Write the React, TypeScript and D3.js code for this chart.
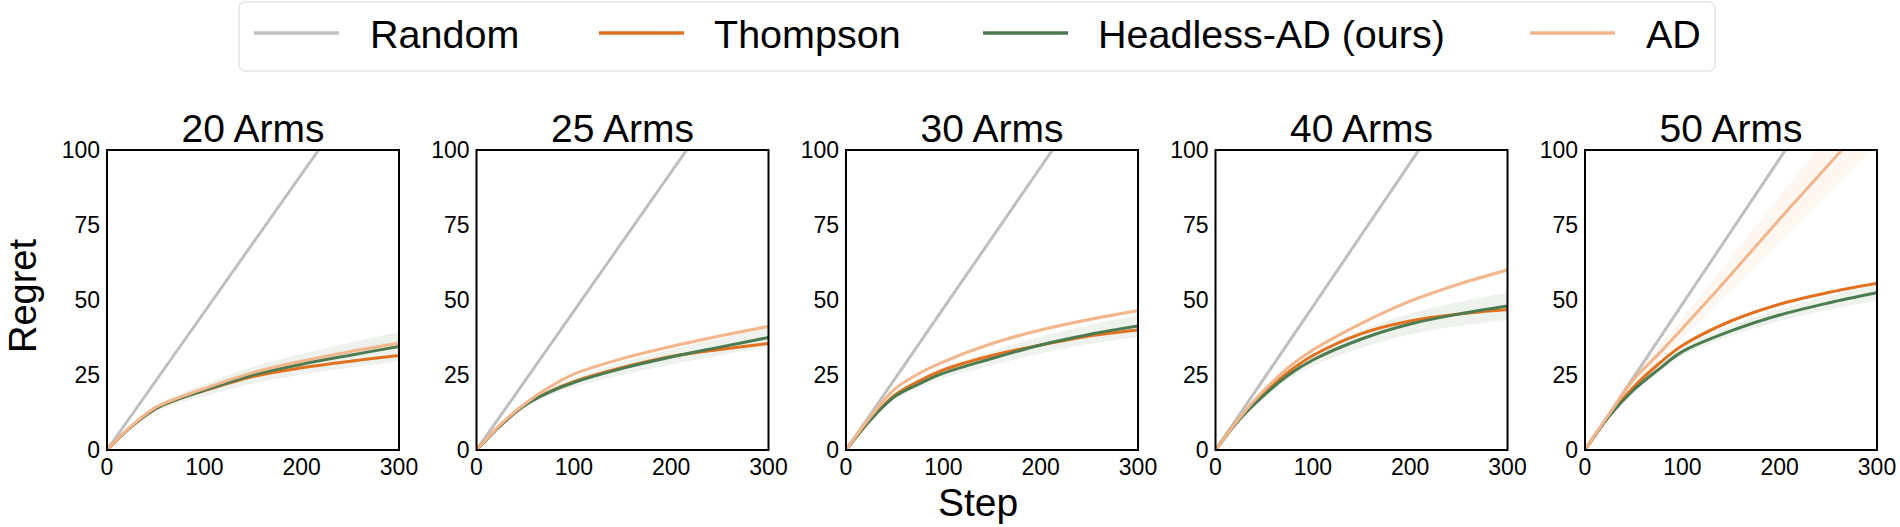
import React from "react";
import * as d3 from "d3";

const panelTitles = ["20 Arms", "25 Arms", "30 Arms", "40 Arms", "50 Arms"];
const steps = [0, 25, 50, 75, 100, 150, 200, 250, 300];
const randomSteps = [0, 100, 200, 300];
const xTicks = [0, 100, 200, 300];
const yTicks = [0, 25, 50, 75, 100];

const randomVals = [
  [0, 46, 92, 138],
  [0, 46.3, 92.6, 139],
  [0, 47.2, 94.3, 141.5],
  [0, 47.8, 95.7, 143.5],
  [0, 48.6, 97.1, 145.6],
];
const thompsonVals = [
  [0, 7.8, 13.8, 17.2, 19.8, 24.5, 27.4, 29.6, 31.5],
  [0, 8.3, 15, 19.5, 22.8, 27.5, 31.2, 33.5, 35.5],
  [0, 10, 18.3, 23, 26.7, 31.5, 35, 38, 40],
  [0, 10.5, 18.9, 26, 31.5, 38.8, 43, 45.3, 46.8],
  [0, 11.5, 21, 28.5, 34.8, 43, 48.6, 52.5, 55.6],
];
const headlessVals = [
  [0, 7.8, 13.8, 17.2, 19.9, 25, 28.6, 31.6, 34.5],
  [0, 8.3, 15, 19.3, 22.5, 27.2, 31, 34.3, 37.5],
  [0, 10, 17.8, 22, 25.6, 30.5, 35, 38.5, 41.3],
  [0, 10.3, 18.3, 25, 30, 37, 42, 45.3, 48],
  [0, 11.3, 20, 26.7, 32.8, 39.7, 45, 49, 52.4],
];
const headlessSpread = [
  [0, 0.5, 1, 1.5, 2, 2.8, 3.5, 4.2, 4.8],
  [0, 0.5, 0.8, 1.2, 1.6, 2.1, 2.5, 2.8, 3.1],
  [0, 0.5, 0.9, 1.3, 1.7, 2.3, 2.8, 3.2, 3.6],
  [0, 0.6, 1, 1.5, 2, 2.9, 3.5, 4, 4.5],
  [0, 0.4, 0.7, 1, 1.3, 1.7, 2, 2.3, 2.6],
];
const adVals = [
  [0, 8, 14.2, 17.6, 20.5, 25.8, 29.6, 32.8, 35.6],
  [0, 8.6, 15.5, 21, 25.3, 30.5, 34.5, 38, 41.2],
  [0, 11, 20.3, 25.5, 29.4, 35.5, 40, 43.5, 46.4],
  [0, 10.8, 20, 27.5, 33.3, 42.2, 49.6, 55.3, 60],
  [0, 12, 23.5, 31.8, 40.5, 58.5, 77, 95, 113],
];
const adSpread = [
  [0, 0.2, 0.3, 0.4, 0.5, 0.6, 0.7, 0.8, 0.9],
  [0, 0.2, 0.3, 0.4, 0.5, 0.6, 0.7, 0.8, 0.9],
  [0, 0.2, 0.3, 0.4, 0.5, 0.6, 0.7, 0.8, 0.9],
  [0, 0.2, 0.3, 0.4, 0.5, 0.6, 0.7, 0.8, 0.9],
  [0, 0.8, 1.5, 2.5, 3.5, 5.5, 7.5, 9.5, 11.5],
];

const legendNames = ["Random", "Thompson", "Headless-AD (ours)", "AD"];
const colors = {
  random: "#bfbfbf",
  thompson: "#e2701e",
  headless: "#4d7b50",
  ad: "#f2b68c",
};
const legendColors = [colors.random, colors.thompson, colors.headless, colors.ad];

const FONT = "'Liberation Sans', Arial, Helvetica, sans-serif";
const W = 1900;
const H = 527;
const panelLeft0 = 107;
const panelGap = 369.5;
const pw = 292;
const top = 150;
const ph = 300;

function Panel({ i }: { i: number }) {
  const x0 = panelLeft0 + i * panelGap;
  const x = d3.scaleLinear().domain([0, 300]).range([x0, x0 + pw]);
  const y = d3.scaleLinear().domain([0, 100]).range([top + ph, top]);
  const curve = d3.curveCatmullRom.alpha(0.5);
  const line = d3
    .line<number>()
    .x((_, k) => x(steps[k]))
    .y((v) => y(v))
    .curve(curve);
  const rline = d3
    .line<number>()
    .x((_, k) => x(randomSteps[k]))
    .y((v) => y(v));
  const band = (vals: number[], sp: number[]) =>
    d3
      .area<number>()
      .x((_, k) => x(steps[k]))
      .y0((v, k) => y(v - sp[k]))
      .y1((v, k) => y(v + sp[k]))
      .curve(curve)(vals) || "";
  const clipId = `clip${i}`;
  return (
    <g>
      <defs>
        <clipPath id={clipId}>
          <rect x={x0} y={top} width={pw} height={ph} />
        </clipPath>
      </defs>
      <g clipPath={`url(#${clipId})`}>
        <path d={band(adVals[i], adSpread[i])} fill={colors.ad} opacity={0.12} />
        <path d={band(headlessVals[i], headlessSpread[i])} fill={colors.headless} opacity={0.1} />
        <path d={rline(randomVals[i]) || ""} fill="none" stroke={colors.random} strokeWidth={3} />
        <path d={line(thompsonVals[i]) || ""} fill="none" stroke={colors.thompson} strokeWidth={3} />
        <path d={line(headlessVals[i]) || ""} fill="none" stroke={colors.headless} strokeWidth={3} />
        <path d={line(adVals[i]) || ""} fill="none" stroke={colors.ad} strokeWidth={3} />
      </g>
      <rect x={x0} y={top} width={pw} height={ph} fill="none" stroke="#000" strokeWidth={2} />
      {yTicks.map((t) => (
        <text
          key={"y" + t}
          x={x0 - 7}
          y={y(t)}
          dy="0.36em"
          textAnchor="end"
          fontSize={23}
          fontFamily={FONT}
          fill="#000"
        >
          {t}
        </text>
      ))}
      {xTicks.map((t) => (
        <text
          key={"x" + t}
          x={x(t)}
          y={top + ph + 25}
          textAnchor="middle"
          fontSize={23}
          fontFamily={FONT}
          fill="#000"
        >
          {t}
        </text>
      ))}
      <text
        x={x0 + pw / 2}
        y={142}
        textAnchor="middle"
        fontSize={39}
        fontFamily={FONT}
        fill="#000"
      >
        {panelTitles[i]}
      </text>
    </g>
  );
}

const legendLineX = [254, 599, 983, 1530];
const legendTextX = [370, 714, 1098, 1646];

export default function App() {
  return (
    <svg
      width={W}
      height={H}
      style={{ position: "absolute", left: 0, top: 0, background: "#fff" }}
    >
      <rect x={0} y={0} width={W} height={H} fill="#fff" />
      <rect x={239} y={2} width={1476} height={69} rx={6} fill="#fff" stroke="#e4e4e4" strokeWidth={1.5} />
      {legendNames.map((n, k) => (
        <g key={n}>
          <line
            x1={legendLineX[k]}
            x2={legendLineX[k] + 85}
            y1={33}
            y2={33}
            stroke={legendColors[k]}
            strokeWidth={3.5}
          />
          <text x={legendTextX[k]} y={48} fontSize={39.5} fontFamily={FONT} fill="#000">
            {n}
          </text>
        </g>
      ))}
      {panelTitles.map((_, i) => (
        <Panel key={i} i={i} />
      ))}
      <text
        transform={`translate(36,296) rotate(-90)`}
        textAnchor="middle"
        fontSize={38}
        fontFamily={FONT}
        fill="#000"
      >
        Regret
      </text>
      <text x={978} y={516} textAnchor="middle" fontSize={39} fontFamily={FONT} fill="#000">
        Step
      </text>
    </svg>
  );
}
